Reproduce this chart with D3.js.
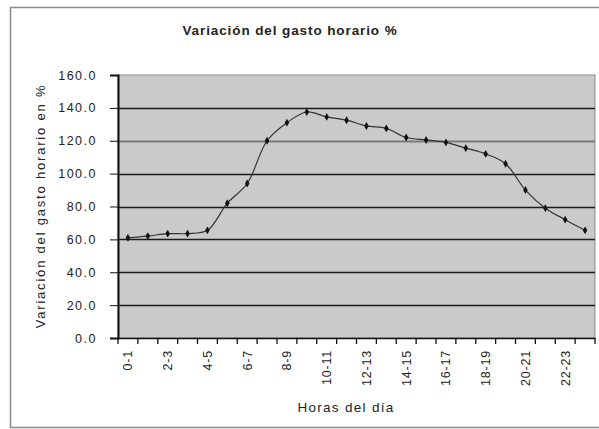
<!DOCTYPE html>
<html>
<head>
<meta charset="utf-8">
<script src="https://cdn.jsdelivr.net/npm/d3@7"></script>
<style>
  body { margin: 0; background: #fff; }
  text { font-family: "Liberation Sans", Arial, sans-serif; }
</style>
</head>
<body>
<div id="chart"></div>
<script>
// data
var hours = ["0-1","1-2","2-3","3-4","4-5","5-6","6-7","7-8","8-9","9-10","10-11","11-12",
             "12-13","13-14","14-15","15-16","16-17","17-18","18-19","19-20","20-21","21-22","22-23","23-24"];
var gasto = [61, 62, 63.5, 63.5, 65.5, 82, 94, 120, 131, 137.5, 134.5, 132.5,
             129, 127.5, 122, 120.5, 119, 115.5, 112, 106, 90, 79, 72, 65.5];
var yTicks = [0, 20, 40, 60, 80, 100, 120, 140, 160];

var W = 599, H = 429;
var margin = {top: 75, right: 4, bottom: 91, left: 118},
    width = W - margin.left - margin.right,
    height = H - margin.top - margin.bottom;

var svg = d3.select("#chart").append("svg")
    .attr("width", W)
    .attr("height", H);

//outer frame
svg.append("rect")
    .attr("x", 10.5).attr("y", 7.5)
    .attr("width", 600).attr("height", 420)
    .attr("fill", "#fff")
    .attr("stroke", "#8a8a8a")
    .attr("stroke-width", 1.5);

//title
svg.append("text")
    .attr("x", 290).attr("y", 35)
    .attr("text-anchor", "middle")
    .style("font-size", "13.5px")
    .style("font-weight", "bold")
    .style("letter-spacing", "0.9px")
    .attr("fill", "#222")
    .text("Variación del gasto horario %");

var g = svg.append("g")
    .attr("transform", "translate(" + margin.left + "," + margin.top + ")");

var x = d3.scaleBand().domain(hours).range([0, width]);
var y = d3.scaleLinear().domain([0, 160]).range([height, 0]);

//plot background
g.append("rect")
    .attr("width", width).attr("height", height)
    .attr("fill", "#cacaca")
    .attr("stroke", "#8a8a8a");

//gridlines
g.selectAll(".grid").data(yTicks.slice(1, -1)).enter()
    .append("line")
    .attr("class", "grid")
    .attr("x1", 0).attr("x2", width)
    .attr("y1", function(d){ return Math.round(y(d)) + 0.5; })
    .attr("y2", function(d){ return Math.round(y(d)) + 0.5; })
    .attr("stroke", function(d){ return d == 120 ? "#7a7a7a" : "#1a1a1a"; })
    .attr("stroke-width", function(d){ return d == 120 ? 2 : 1.3; });

//y axis
var yAxis = d3.axisLeft(y)
    .tickValues(yTicks)
    .tickSize(8)
    .tickFormat(d3.format(".1f"));
var yg = g.append("g").call(yAxis);
yg.select(".domain").attr("stroke", "#111").attr("stroke-width", 2);
yg.selectAll(".tick line").attr("stroke", "#111");
yg.selectAll("text")
    .style("font-size", "12.5px")
    .style("letter-spacing", "1.5px")
    .attr("fill", "#222")
    .attr("x", -21);

//x axis
var xAxis = d3.axisBottom(x)
    .tickSize(0)
    .tickFormat(function(d, i){ return i % 2 == 0 ? d : ""; });
var xg = g.append("g")
    .attr("transform", "translate(0," + height + ")")
    .call(xAxis);
xg.select(".domain").attr("stroke", "#111").attr("stroke-width", 1.5);
xg.selectAll("text")
    .style("font-size", "12.5px")
    .style("letter-spacing", "0.8px")
    .attr("fill", "#222")
    .style("text-anchor", "end")
    .attr("transform", "rotate(-90)")
    .attr("x", -12)
    .attr("y", 0)
    .attr("dy", "0.35em");

//category separators on x axis
g.selectAll(".xtick").data(hours.concat(["end"])).enter()
    .append("line")
    .attr("class", "xtick")
    .attr("x1", function(d, i){ return i * x.bandwidth(); })
    .attr("x2", function(d, i){ return i * x.bandwidth(); })
    .attr("y1", height).attr("y2", height + 6)
    .attr("stroke", "#111")
    .attr("stroke-width", 1.3);

//smoothed line
var line = d3.line()
    .x(function(d, i){ return x(hours[i]) + x.bandwidth() / 2; })
    .y(function(d){ return y(d); })
    .curve(d3.curveCatmullRom);

g.append("path")
    .datum(gasto)
    .attr("d", line)
    .attr("fill", "none")
    .attr("stroke", "#333")
    .attr("stroke-width", 1.2);

//markers
g.selectAll(".mark").data(gasto).enter()
    .append("path")
    .attr("class", "mark")
    .attr("d", d3.symbol().type(d3.symbolDiamond).size(18))
    .attr("transform", function(d, i){
        return "translate(" + (x(hours[i]) + x.bandwidth() / 2) + "," + y(d) + ")";
    })
    .attr("fill", "#111");

//axis titles
svg.append("text")
    .attr("transform", "translate(45,206) rotate(-90)")
    .attr("text-anchor", "middle")
    .style("font-size", "13px")
    .style("letter-spacing", "1.8px")
    .attr("fill", "#222")
    .text("Variación del gasto horario en %");

svg.append("text")
    .attr("x", 346).attr("y", 412)
    .attr("text-anchor", "middle")
    .style("font-size", "13.5px")
    .style("letter-spacing", "1.3px")
    .attr("fill", "#222")
    .text("Horas del día");
</script>
</body>
</html>
